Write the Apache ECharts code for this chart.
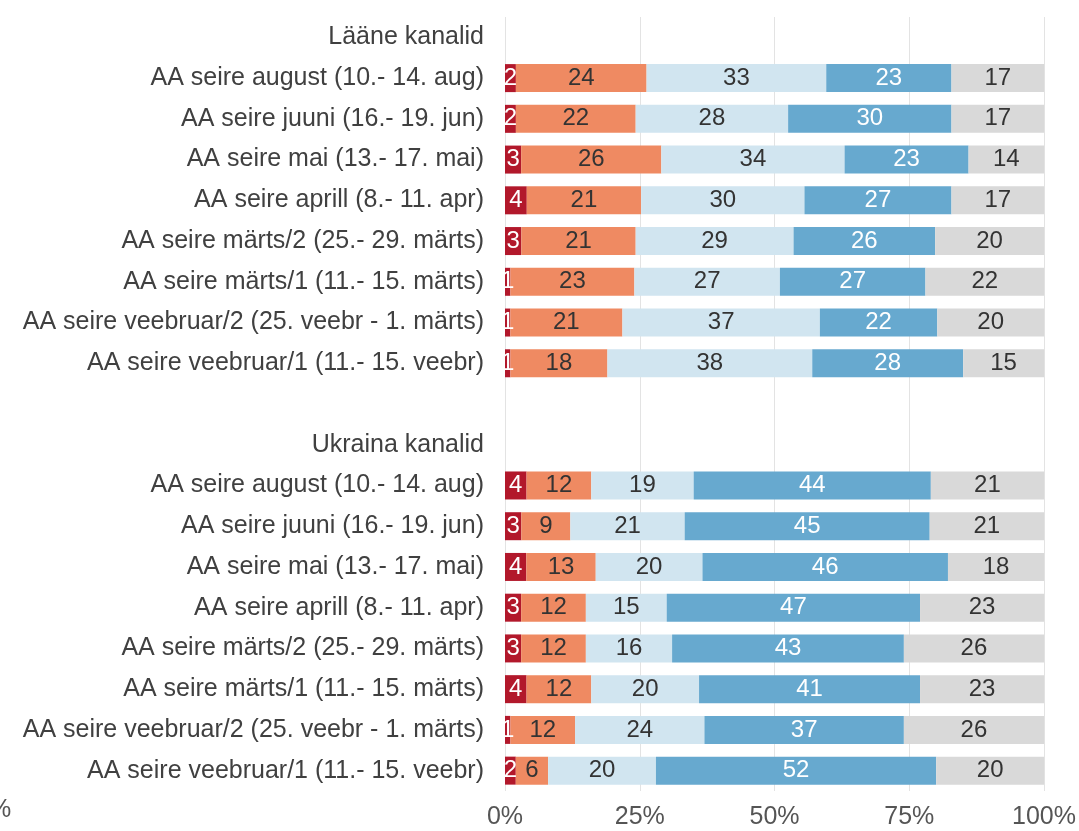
<!DOCTYPE html>
<html>
<head>
<meta charset="utf-8">
<script src="https://cdn.jsdelivr.net/npm/echarts@6/dist/echarts.min.js"></script>
<style>
  html, body { margin: 0; padding: 0; background: #fff; }
  #main { width: 1079px; height: 831px; }
</style>
</head>
<body>
<div id="main"></div>
<script>
// kategooriad ülevalt alla (pealkirjad ja tühi rida on samuti read)
var categories = [
    'Lääne kanalid',
    'AA seire august (10.- 14. aug)',
    'AA seire juuni (16.- 19. jun)',
    'AA seire mai (13.- 17. mai)',
    'AA seire aprill (8.- 11. apr)',
    'AA seire märts/2 (25.- 29. märts)',
    'AA seire märts/1 (11.- 15. märts)',
    'AA seire veebruar/2 (25. veebr - 1. märts)',
    'AA seire veebruar/1 (11.- 15. veebr)',
    '',
    'Ukraina kanalid',
    'AA seire august (10.- 14. aug)',
    'AA seire juuni (16.- 19. jun)',
    'AA seire mai (13.- 17. mai)',
    'AA seire aprill (8.- 11. apr)',
    'AA seire märts/2 (25.- 29. märts)',
    'AA seire märts/1 (11.- 15. märts)',
    'AA seire veebruar/2 (25. veebr - 1. märts)',
    'AA seire veebruar/1 (11.- 15. veebr)'
];

var s1 = [null, 2, 2, 3, 4, 3, 1, 1, 1, null, null, 4, 3, 4, 3, 3, 4, 1, 2];
var s2 = [null, 24, 22, 26, 21, 21, 23, 21, 18, null, null, 12, 9, 13, 12, 12, 12, 12, 6];
var s3 = [null, 33, 28, 34, 30, 29, 27, 37, 38, null, null, 19, 21, 20, 15, 16, 20, 24, 20];
var s4 = [null, 23, 30, 23, 27, 26, 27, 22, 28, null, null, 44, 45, 46, 47, 43, 41, 37, 52];
var s5 = [null, 17, 17, 14, 17, 20, 22, 20, 15, null, null, 21, 21, 18, 23, 26, 23, 26, 20];

var xTicks = [0, 25, 50, 75, 100];

var colors = ['#B2182B', '#EF8A62', '#D1E5F0', '#67A9CF', '#D9D9D9'];
var labelColors = ['#ffffff', '#333333', '#333333', '#ffffff', '#333333'];

var allSeries = [s1, s2, s3, s4, s5];

// rea summa, et tulp ulatuks 100%-ni
var rowSums = categories.map(function (c, i) {
    var sum = 0;
    allSeries.forEach(function (s) { sum += s[i] || 0; });
    return sum;
});

var myChart = echarts.init(document.getElementById('main'));

var option = {
    animation: false,
    textStyle: { fontFamily: 'Liberation Sans, Arial, sans-serif' },
    grid: {
        left: 505,
        right: 34,
        top: 17,
        bottom: 40
    },
    xAxis: {
        type: 'value',
        min: 0,
        max: 100,
        interval: 25,
        axisLine: { show: false },
        axisTick: { show: false },
        splitLine: { show: true, lineStyle: { color: '#E3E3E3', width: 1 } },
        axisLabel: {
            color: '#555555',
            fontSize: 25,
            margin: 14,
            formatter: function (v) { return xTicks.indexOf(v) >= 0 ? v + '%' : ''; }
        }
    },
    yAxis: {
        type: 'category',
        inverse: true,
        data: categories,
        axisLine: { show: false },
        axisTick: { show: false },
        axisLabel: { color: '#404040', fontSize: 25, margin: 21 }
    },
    graphic: [{
        type: 'text',
        left: -11,
        top: 798,
        style: { text: '%', fill: '#555555', fontSize: 25, fontFamily: 'Liberation Sans, Arial, sans-serif' }
    }],
    series: allSeries.map(function (s, k) {
        return {
            type: 'bar',
            stack: 'total',
            barWidth: 28,
            itemStyle: { color: colors[k] },
            label: {
                show: true,
                position: 'inside',
                color: labelColors[k],
                fontSize: 24,
                formatter: function (p) { return s[p.dataIndex]; }
            },
            data: s.map(function (v, i) {
                return v == null ? null : v / rowSums[i] * 100;
            })
        };
    })
};

myChart.setOption(option);

window.onresize = function () {
    myChart.resize();
};
</script>
</body>
</html>
